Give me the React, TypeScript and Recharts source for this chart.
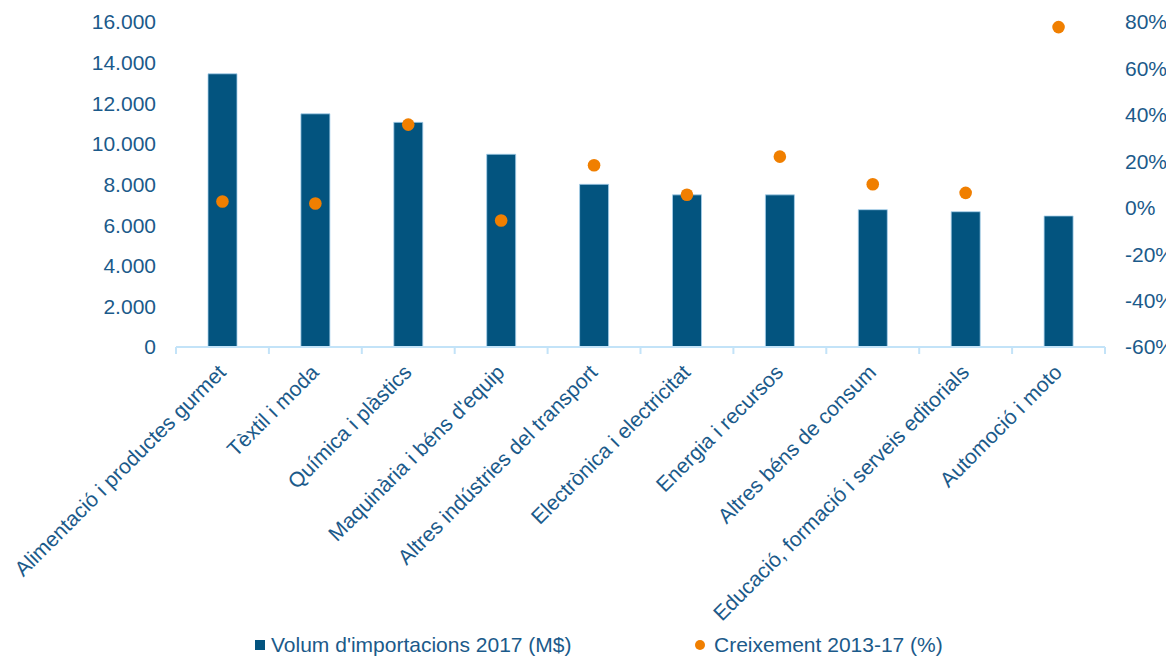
import React from 'react';
import { ComposedChart, Bar, Scatter, XAxis, YAxis, Legend } from 'recharts';

const categories = [
  'Alimentació i productes gurmet',
  'Tèxtil i moda',
  'Química i plàstics',
  "Maquinària i béns d'equip",
  'Altres indústries del transport',
  'Electrònica i electricitat',
  'Energia i recursos',
  'Altres béns de consum',
  'Educació, formació i serveis editorials',
  'Automoció i moto',
];
const volume = [13450, 11480, 11060, 9490, 8010, 7490, 7490, 6760, 6660, 6450];
const growth = [2.7, 1.8, 35.8, -5.5, 18.3, 5.6, 22.0, 10.1, 6.4, 77.8];
const leftTicks = [0, 2000, 4000, 6000, 8000, 10000, 12000, 14000, 16000];
const rightTicks = [-60, -40, -20, 0, 20, 40, 60, 80];
const seriesNames = ["Volum d'importacions 2017 (M$)", 'Creixement 2013-17 (%)'];

const data = categories.map((c, i) => ({ name: c, volume: volume[i], growth: growth[i] }));

const FONT = '"Liberation Sans", Arial, sans-serif';
const TEXT = '#1B5A8A';
const BAR = '#03547F';
const DOT = '#F07F00';
const AXIS = '#C3E3F8';

const fmtThousands = (v: number) => String(v).replace(/\B(?=(\d{3})+(?!\d))/g, '.');

const CatTick = (props: any) => {
  const { x, y, payload, index, visibleTicksCount, width } = props;
  const half =
    payload && typeof payload.offset === 'number' && payload.offset > 0
      ? payload.offset
      : width / visibleTicksCount / 2;
  const tx = x - 6;
  const ty = y + 16;
  return (
    <g>
      <line x1={x - half} x2={x - half} y1={y} y2={y + 7} stroke={AXIS} strokeWidth={2} />
      {index === visibleTicksCount - 1 && (
        <line x1={x + half} x2={x + half} y1={y} y2={y + 7} stroke={AXIS} strokeWidth={2} />
      )}
      <text
        x={tx}
        y={ty}
        transform={`rotate(-45, ${tx}, ${ty})`}
        textAnchor="end"
        dy="0.72em"
        fill={TEXT}
        fontSize={21}
        fontFamily={FONT}
      >
        {payload.value}
      </text>
    </g>
  );
};

const LegendContent = () => (
  <div style={{ position: 'relative', width: 1166, height: 22, fontFamily: FONT, fontSize: 21, color: TEXT }}>
    <div style={{ position: 'absolute', left: 247, top: 0, height: 22, display: 'flex', alignItems: 'center' }}>
      <span style={{ display: 'inline-block', width: 10, height: 10, background: BAR, marginRight: 6 }} />
      <span style={{ lineHeight: '22px' }}>{seriesNames[0]}</span>
    </div>
    <div style={{ position: 'absolute', left: 687, top: 0, height: 22, display: 'flex', alignItems: 'center' }}>
      <span style={{ display: 'inline-block', width: 10, height: 10, borderRadius: 5, background: DOT, marginRight: 9 }} />
      <span style={{ lineHeight: '22px' }}>{seriesNames[1]}</span>
    </div>
  </div>
);

export default function App() {
  return (
    <div style={{ width: 1166, height: 648, fontFamily: FONT }}>
      <ComposedChart
        width={1166}
        height={648}
        data={data}
        margin={{ top: 14, right: 0, bottom: 0, left: 0 }}
      >
        <XAxis
          dataKey="name"
          interval={0}
          height={287}
          tickLine={false}
          tickSize={0}
          tickMargin={0}
          axisLine={{ stroke: AXIS, strokeWidth: 2 }}
          tick={<CatTick />}
        />
        <YAxis
          yAxisId="left"
          orientation="left"
          width={168}
          domain={[0, 16000]}
          ticks={leftTicks}
          tickFormatter={fmtThousands}
          axisLine={false}
          tickLine={false}
          tickSize={6}
          tickMargin={14}
          tick={{ fill: TEXT, fontSize: 21, fontFamily: FONT }}
        />
        <YAxis
          yAxisId="right"
          orientation="right"
          width={69}
          domain={[-60, 80]}
          ticks={rightTicks}
          tickFormatter={(v: number) => `${v}%`}
          axisLine={false}
          tickLine={false}
          tickSize={6}
          tickMargin={14}
          tick={{ fill: TEXT, fontSize: 21, fontFamily: FONT }}
        />
        <Legend
          verticalAlign="bottom"
          content={<LegendContent />}
          wrapperStyle={{ left: 0, width: 1166, height: 22 }}
        />
        <Bar
          yAxisId="left"
          dataKey="volume"
          name={seriesNames[0]}
          fill={BAR}
          stroke="#A8D0EC"
          strokeWidth={0.8}
          barSize={29}
          isAnimationActive={false}
        />
        <Scatter
          yAxisId="right"
          dataKey="growth"
          name={seriesNames[1]}
          fill={DOT}
          isAnimationActive={false}
          shape={(p: any) => <circle cx={p.cx} cy={p.cy} r={6.3} fill={DOT} />}
        />
      </ComposedChart>
    </div>
  );
}
